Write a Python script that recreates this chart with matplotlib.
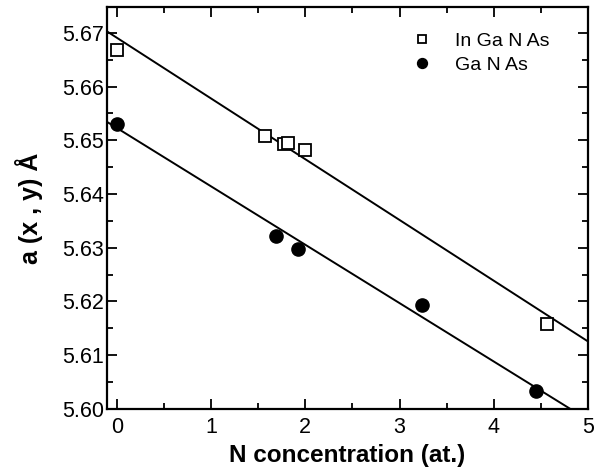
import matplotlib
matplotlib.use("Agg")
import matplotlib.pyplot as plt
from matplotlib.ticker import MultipleLocator, FormatStrFormatter
import numpy as np

# InGaNAs (open squares)
ingan_x = [0.0, 1.57, 1.77, 1.82, 2.0, 4.56]
ingan_y = [5.6668, 5.6508, 5.6493, 5.6495, 5.6482, 5.6158]

# GaNAs (filled circles)
ganas_x = [0.0, 1.69, 1.92, 3.24, 4.45]
ganas_y = [5.6531, 5.6322, 5.6298, 5.6193, 5.6033]

# fitted lines: (intercept at x=0, slope)
ingan_fit = (5.6691, -0.01131)
ganas_fit = (5.6523, -0.01087)

legend_labels = ["In Ga N As", "Ga N As"]

plt.rcParams["font.family"] = ["Liberation Sans", "DejaVu Sans"]

fig = plt.figure(figsize=(5.97, 4.76), dpi=100)
ax = fig.add_axes([0.179, 0.141, 0.806, 0.844])

ax.plot(ingan_x, ingan_y, linestyle="none", marker="s", markersize=8,
        markerfacecolor="white", markeredgecolor="black", markeredgewidth=1.3,
        label=legend_labels[0], zorder=3)
ax.plot(ganas_x, ganas_y, linestyle="none", marker="o", markersize=9.5,
        color="black", label=legend_labels[1], zorder=3)

ax.axline((0, ingan_fit[0]), slope=ingan_fit[1], color="black", lw=1.4, zorder=2)
ax.axline((0, ganas_fit[0]), slope=ganas_fit[1], color="black", lw=1.4, zorder=2)

ax.set_xlim(-0.106, 5.0)
ax.set_ylim(5.60, 5.6748)

ax.xaxis.set_major_locator(MultipleLocator(1))
ax.xaxis.set_minor_locator(MultipleLocator(0.5))
ax.yaxis.set_major_locator(MultipleLocator(0.01))
ax.yaxis.set_minor_locator(MultipleLocator(0.005))
ax.yaxis.set_major_formatter(FormatStrFormatter("%.2f"))

ax.tick_params(which="both", direction="in", top=True, right=True, width=1.3)
ax.tick_params(which="major", length=7, labelsize=15.5)
ax.tick_params(axis="x", which="major", pad=6)
ax.tick_params(axis="y", which="major", pad=2)
ax.tick_params(which="minor", length=4)
for s in ax.spines.values():
    s.set_linewidth(1.6)

ax.set_xlabel("N concentration (at.)", fontsize=17.5, fontweight="bold", labelpad=4)
ax.set_ylabel("a (x , y) Å", fontsize=18, fontweight="bold", labelpad=14)

leg = ax.legend(loc="upper right", frameon=False, fontsize=14, handletextpad=0.7,
                markerscale=0.75, borderaxespad=0.6, labelspacing=0.3,
                bbox_to_anchor=(0.96, 0.985))

fig.savefig("out.png", dpi=100)
